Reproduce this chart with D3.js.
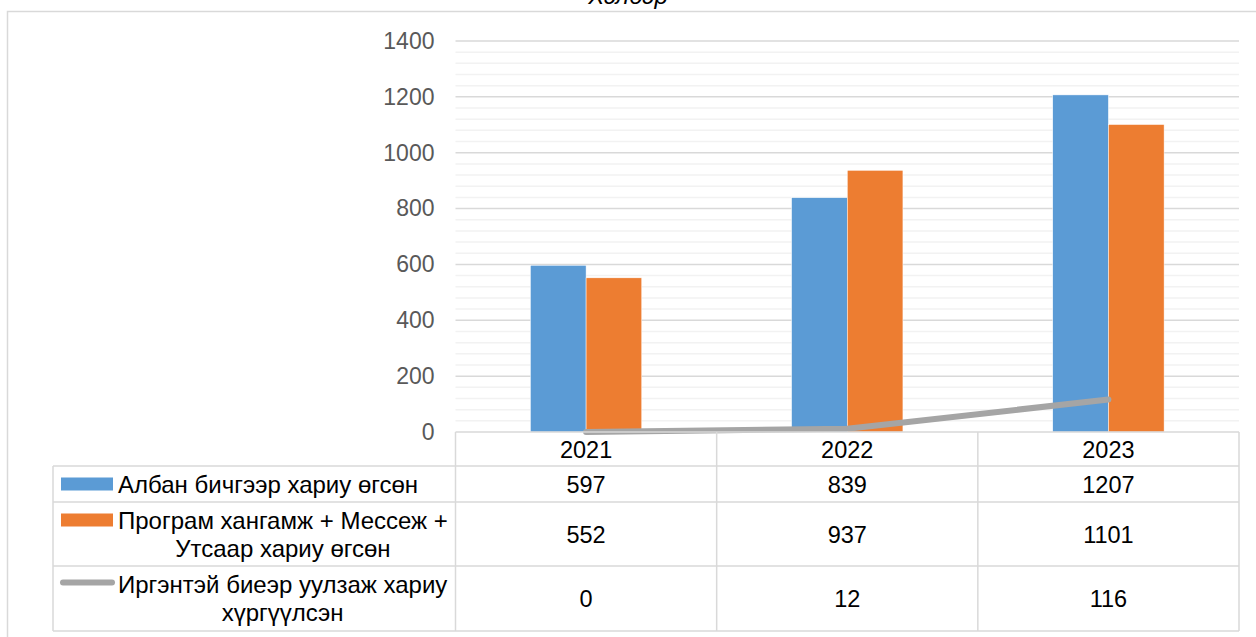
<!DOCTYPE html>
<html>
<head>
<meta charset="utf-8">
<script src="https://cdn.jsdelivr.net/npm/d3@7"></script>
<style>
  body { margin: 0; background: #fff; }
  text { font-family: "Liberation Sans", Arial, sans-serif; }
</style>
</head>
<body>
<div id="chart"></div>
<script>
const years = ["2021", "2022", "2023"];
const albanValues = [597, 839, 1207];
const programValues = [552, 937, 1101];
const irgenValues = [0, 12, 116];
const yTicks = [0, 200, 400, 600, 800, 1000, 1200, 1400];
const seriesNames = [
  ["Албан бичгээр хариу өгсөн"],
  ["Програм хангамж + Мессеж +", "Утсаар хариу өгсөн"],
  ["Иргэнтэй биеэр уулзаж хариу", "хүргүүлсэн"]
];
const chartTitle = "Хэлбэр";

const W = 1256, H = 637;
const plot = {left: 455.5, right: 1239, top: 41, bottom: 432};
const tableLeft = 53;
const rowEdges = [432, 466, 502, 566, 631];
const gridCol = "#d9d9d9", minorCol = "#f2f2f2";
const colors = ["#5b9bd5", "#ed7d31", "#a5a5a5"];

const svg = d3.select("#chart").append("svg")
    .attr("width", W)
    .attr("height", H);

// outer chart border (cut by the picture edges)
svg.append("rect")
    .attr("x", 7.5).attr("y", 11.5)
    .attr("width", W + 20).attr("height", H + 20)
    .attr("fill", "none")
    .attr("stroke", gridCol)
    .attr("stroke-width", 1.5);

// title, mostly off the top edge as in the source
svg.append("text")
    .attr("x", 628).attr("y", 4)
    .attr("text-anchor", "middle")
    .attr("font-size", 24)
    .attr("font-style", "italic")
    .attr("fill", "#000")
    .text(chartTitle);

const x = d3.scaleBand().domain(years).range([plot.left, plot.right]).padding(0);
const y = d3.scaleLinear().domain([0, 1400]).range([plot.bottom, plot.top]);

// minor gridlines
svg.append("g").selectAll("line")
    .data(d3.range(0, 1401, 40).filter(v => v % 200 !== 0))
    .join("line")
    .attr("x1", plot.left).attr("x2", plot.right)
    .attr("y1", d => y(d)).attr("y2", d => y(d))
    .attr("stroke", minorCol)
    .attr("stroke-width", 1.5);

// major gridlines
svg.append("g").selectAll("line")
    .data(yTicks.filter(v => v > 0))
    .join("line")
    .attr("x1", plot.left).attr("x2", plot.right)
    .attr("y1", d => y(d)).attr("y2", d => y(d))
    .attr("stroke", gridCol)
    .attr("stroke-width", 1.5);

// y axis labels
const yAxis = svg.append("g")
    .attr("transform", `translate(${plot.left - 21},0)`)
    .call(d3.axisLeft(y).tickValues(yTicks).tickFormat(d3.format("d")).tickSize(0).tickPadding(0));
yAxis.select(".domain").remove();
yAxis.selectAll("text")
    .attr("font-family", "Liberation Sans, Arial, sans-serif")
    .attr("font-size", 23)
    .attr("fill", "#595959");

// bars
const bw = x.bandwidth() * 0.2132;
const barSets = [albanValues, programValues];
barSets.forEach((vals, si) => {
  svg.append("g").selectAll("rect")
      .data(vals)
      .join("rect")
      .attr("x", (d, i) => x(years[i]) + x.bandwidth() / 2 - bw + si * bw)
      .attr("y", d => y(d))
      .attr("width", bw)
      .attr("height", d => y(0) - y(d))
      .attr("fill", colors[si])
      .attr("stroke", "#fff")
      .attr("stroke-width", 0.5);
});

// line series
const line = d3.line()
    .x((d, i) => x(years[i]) + x.bandwidth() / 2)
    .y(d => y(d));
svg.append("path")
    .datum(irgenValues)
    .attr("d", line)
    .attr("fill", "none")
    .attr("stroke", colors[2])
    .attr("stroke-width", 6)
    .attr("stroke-linecap", "round")
    .attr("stroke-linejoin", "round");

// data table lines
const tbl = svg.append("g").attr("stroke", gridCol).attr("stroke-width", 1.5);
tbl.append("line").attr("x1", plot.left).attr("x2", plot.right)
    .attr("y1", rowEdges[0]).attr("y2", rowEdges[0]);
rowEdges.slice(1).forEach(r => {
  tbl.append("line").attr("x1", tableLeft).attr("x2", plot.right).attr("y1", r).attr("y2", r);
});
tbl.append("line").attr("x1", tableLeft).attr("x2", tableLeft)
    .attr("y1", rowEdges[1]).attr("y2", rowEdges[4]);
x.domain().forEach(yr => {
  tbl.append("line").attr("x1", x(yr)).attr("x2", x(yr))
      .attr("y1", rowEdges[0]).attr("y2", rowEdges[4]);
});
tbl.append("line").attr("x1", plot.right).attr("x2", plot.right)
    .attr("y1", rowEdges[0]).attr("y2", rowEdges[4]);

// header row: years
svg.append("g").selectAll("text")
    .data(years)
    .join("text")
    .attr("x", d => x(d) + x.bandwidth() / 2)
    .attr("y", (rowEdges[0] + rowEdges[1]) / 2 + 8.5)
    .attr("text-anchor", "middle")
    .attr("font-size", 23.5)
    .attr("fill", "#000")
    .text(d => d);

// value cells
[albanValues, programValues, irgenValues].forEach((vals, si) => {
  const cy = (rowEdges[si + 1] + rowEdges[si + 2]) / 2 + 8.5;
  svg.append("g").selectAll("text")
      .data(vals)
      .join("text")
      .attr("x", (d, i) => x(years[i]) + x.bandwidth() / 2)
      .attr("y", cy)
      .attr("text-anchor", "middle")
      .attr("font-size", 23.5)
      .attr("fill", "#000")
      .text(d => d);
});

// legend cells
const textStart = 118;
seriesNames.forEach((lines, si) => {
  const top = rowEdges[si + 1], bot = rowEdges[si + 2];
  const n = lines.length;
  const lh = 28;
  const firstBase = (top + bot) / 2 + 8.5 - (n - 1) * lh / 2;
  const g = svg.append("g");
  const t = g.selectAll("text")
      .data(lines)
      .join("text")
      .attr("y", (d, i) => firstBase + i * lh)
      .attr("font-size", 24)
      .attr("fill", "#000")
      .text(d => d);
  const widths = t.nodes().map(nd => nd.getComputedTextLength());
  const maxW = d3.max(widths);
  t.attr("x", (d, i) => n === 1 ? textStart : textStart + (maxW - widths[i]) / 2);

  const keyY = firstBase - 8.5;
  if (si < 2) {
    g.append("rect")
        .attr("x", 61).attr("y", keyY - 6.5)
        .attr("width", 52).attr("height", 13)
        .attr("fill", colors[si]);
  } else {
    g.append("line")
        .attr("x1", 63).attr("x2", 112)
        .attr("y1", keyY - 2).attr("y2", keyY - 2)
        .attr("stroke", colors[2])
        .attr("stroke-width", 6)
        .attr("stroke-linecap", "round");
  }
});
</script>
</body>
</html>
